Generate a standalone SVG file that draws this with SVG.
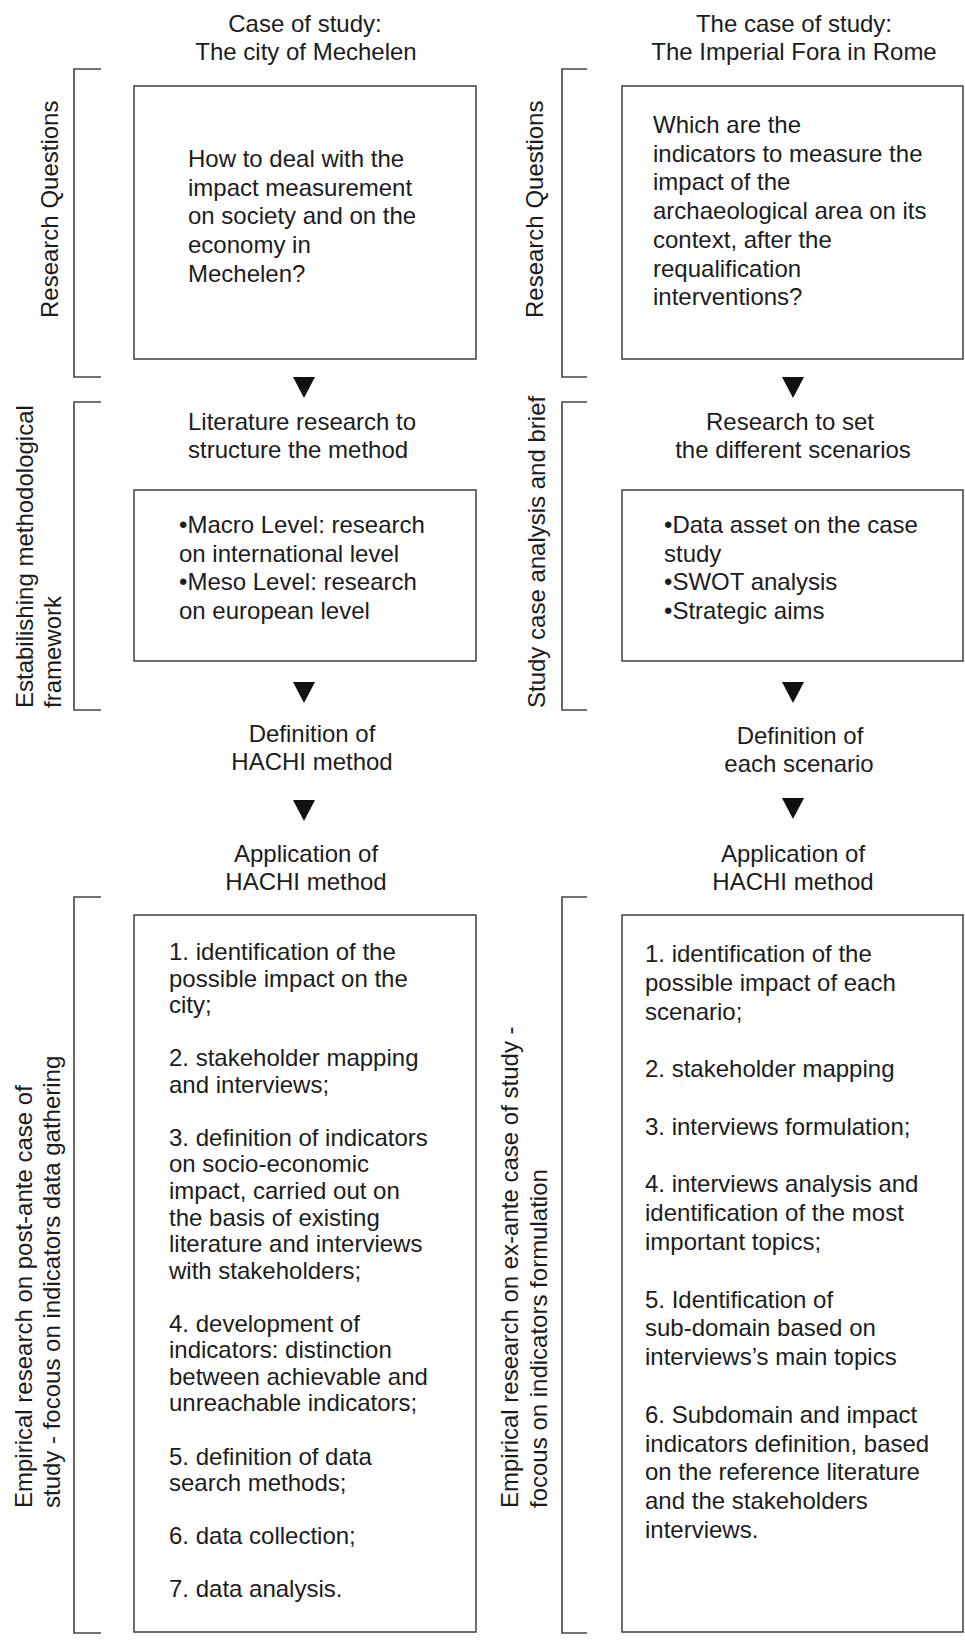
<svg xmlns="http://www.w3.org/2000/svg" width="965" height="1640" viewBox="0 0 965 1640">
<style>
text{font-family:"Liberation Sans",Arial,sans-serif;font-size:24px;fill:#1c1c1c}
.c{text-anchor:middle}
.box{fill:#fff;stroke:#4a4a4a;stroke-width:1.6}
.br{fill:none;stroke:#444;stroke-width:1.6}
.ar{fill:#111}
</style>
<rect width="965" height="1640" fill="#fff"/>
<g id="titles">
<text class="c" x="305" y="32">Case of study:</text>
<text class="c" x="306" y="60">The city of Mechelen</text>
<text class="c" x="794" y="32">The case of study:</text>
<text class="c" x="794" y="60">The Imperial Fora in Rome</text>
</g>
<g id="brackets">
<path class="br" d="M101,69H74V377H101"/>
<path class="br" d="M101,402H74V710H101"/>
<path class="br" d="M101,897H74V1633H101"/>
<path class="br" d="M587,69H562V377H587"/>
<path class="br" d="M587,402H562V710H587"/>
<path class="br" d="M587,897H562V1633H587"/>
</g>
<g id="side-labels">
<text transform="translate(58,318) rotate(-90)">Research Questions</text>
<text transform="translate(33,708) rotate(-90)">Estabilishing methodological</text>
<text transform="translate(61,708) rotate(-90)">framework</text>
<text transform="translate(32,1508) rotate(-90)">Empirical research on post-ante case of</text>
<text transform="translate(60,1508) rotate(-90)">study - focous on indicators data gathering</text>
<text transform="translate(543,318) rotate(-90)">Research Questions</text>
<text transform="translate(545,708) rotate(-90)">Study case analysis and brief</text>
<text transform="translate(518,1508) rotate(-90)">Empirical research on ex-ante case of study -</text>
<text transform="translate(547,1508) rotate(-90)">focous on indicators formulation</text>
</g>
<g id="connectors">
<polygon class="ar" points="293,377 315,377 304,398"/>
<polygon class="ar" points="293,682 315,682 304,703"/>
<polygon class="ar" points="293,800 315,800 304,821"/>
<polygon class="ar" points="782,377 804,377 793,398"/>
<polygon class="ar" points="782,682 804,682 793,703"/>
<polygon class="ar" points="782,798 804,798 793,819"/>
</g>
<g id="node-rq-left">
<rect class="box" x="134" y="86" width="342" height="273"/>
<text x="188" y="167">How to deal with the<tspan x="188" y="195.7">impact measurement</tspan><tspan x="188" y="224.4">on society and on the</tspan><tspan x="188" y="253.1">economy in</tspan><tspan x="188" y="281.8">Mechelen?</tspan></text>
</g>
<g id="node-rq-right">
<rect class="box" x="622" y="86" width="341" height="273"/>
<text x="653" y="133">Which are the<tspan x="653" y="161.7">indicators to measure the</tspan><tspan x="653" y="190.4">impact of the</tspan><tspan x="653" y="219.1">archaeological area on its</tspan><tspan x="653" y="247.8">context, after the</tspan><tspan x="653" y="276.5">requalification</tspan><tspan x="653" y="305.2">interventions?</tspan></text>
</g>
<g id="node-lit-label">
<text x="188" y="430">Literature research to</text>
<text x="188" y="458">structure the method</text>
</g>
<g id="node-lit">
<rect class="box" x="134" y="490" width="342" height="171"/>
<text x="179" y="533">•Macro Level: research<tspan x="179" y="561.7">on international level</tspan><tspan x="179" y="590.4">•Meso Level: research</tspan><tspan x="179" y="619">on european level</tspan></text>
</g>
<g id="node-scen-label">
<text class="c" x="790" y="430">Research to set</text>
<text class="c" x="793" y="458">the different scenarios</text>
</g>
<g id="node-scen">
<rect class="box" x="622" y="490" width="341" height="171"/>
<text x="664" y="533">•Data asset on the case<tspan x="664" y="561.7">study</tspan><tspan x="664" y="590.4">•SWOT analysis</tspan><tspan x="664" y="619">•Strategic aims</tspan></text>
</g>
<g id="node-def-left">
<text class="c" x="312" y="742">Definition of</text>
<text class="c" x="312" y="770">HACHI method</text>
</g>
<g id="node-def-right">
<text class="c" x="800" y="744">Definition of</text>
<text class="c" x="799" y="772">each scenario</text>
</g>
<g id="node-app-left-label">
<text class="c" x="306" y="862">Application of</text>
<text class="c" x="306" y="890">HACHI method</text>
</g>
<g id="node-app-right-label">
<text class="c" x="793" y="862">Application of</text>
<text class="c" x="793" y="890">HACHI method</text>
</g>
<g id="node-app-left">
<rect class="box" x="134" y="915" width="342" height="717"/>
<text x="169" y="960">1. identification of the<tspan x="169" y="986.6">possible impact on the</tspan><tspan x="169" y="1013.1">city;</tspan><tspan x="169" y="1066.2">2. stakeholder mapping</tspan><tspan x="169" y="1092.8">and interviews;</tspan><tspan x="169" y="1145.9">3. definition of indicators</tspan><tspan x="169" y="1172.4">on socio-economic</tspan><tspan x="169" y="1199">impact, carried out on</tspan><tspan x="169" y="1225.5">the basis of existing</tspan><tspan x="169" y="1252">literature and interviews</tspan><tspan x="169" y="1278.6">with stakeholders;</tspan><tspan x="169" y="1331.7">4. development of</tspan><tspan x="169" y="1358.3">indicators: distinction</tspan><tspan x="169" y="1384.8">between achievable and</tspan><tspan x="169" y="1411.4">unreachable indicators;</tspan><tspan x="169" y="1464.5">5. definition of data</tspan><tspan x="169" y="1491">search methods;</tspan><tspan x="169" y="1544">6. data collection;</tspan><tspan x="169" y="1597.2">7. data analysis.</tspan></text>
</g>
<g id="node-app-right">
<rect class="box" x="622" y="915" width="341" height="717"/>
<text x="645" y="962">1. identification of the<tspan x="645" y="990.8">possible impact of each</tspan><tspan x="645" y="1019.6">scenario;</tspan><tspan x="645" y="1077.2">2. stakeholder mapping</tspan><tspan x="645" y="1134.8">3. interviews formulation;</tspan><tspan x="645" y="1192.4">4. interviews analysis and</tspan><tspan x="645" y="1221.2">identification of the most</tspan><tspan x="645" y="1250">important topics;</tspan><tspan x="645" y="1307.6">5. Identification of</tspan><tspan x="645" y="1336.4">sub-domain based on</tspan><tspan x="645" y="1365.2">interviews’s main topics</tspan><tspan x="645" y="1422.8">6. Subdomain and impact</tspan><tspan x="645" y="1451.6">indicators definition, based</tspan><tspan x="645" y="1480.4">on the reference literature</tspan><tspan x="645" y="1509.2">and the stakeholders</tspan><tspan x="645" y="1538">interviews.</tspan></text>
</g>
</svg>
